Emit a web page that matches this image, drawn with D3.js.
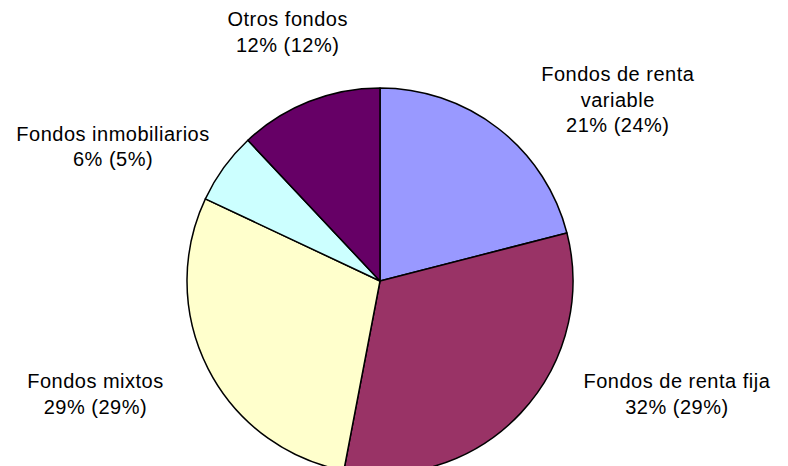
<!DOCTYPE html>
<html>
<head>
<meta charset="utf-8">
<script src="https://cdn.jsdelivr.net/npm/d3@7"></script>
<style>
  body { margin: 0; background: #fff; }
  svg { display: block; }
</style>
</head>
<body>
<div id="chart"></div>
<script>
const categories = ["Fondos de renta\nvariable", "Fondos de renta fija", "Fondos mixtos", "Fondos inmobiliarios", "Otros fondos"];
const shares = [21, 32, 29, 6, 12];
const previousShares = [24, 29, 29, 5, 12];
const colors = ["#9999ff", "#993366", "#ffffcc", "#ccffff", "#660066"];

// nudges from the radial label point, Excel-style placement
const labelNudge = [[84, 17], [114, -59], [-61, -1], [-64, 13], [0, -16]];

const svgWidth = 788;
const svgHeight = 466;
const cx = 380, cy = 281, radius = 193;

const data = categories.map((c, i) => ({
    name: c, value: shares[i], prev: previousShares[i], color: colors[i], i: i
}));

const svg = d3.select("#chart")
    .append("svg")
    .attr("width", svgWidth)
    .attr("height", svgHeight);

const g = svg.append("g")
    .attr("transform", `translate(${cx}, ${cy})`);

const pie = d3.pie().sort(null).value(d => d.value);
const arc = d3.arc().innerRadius(0).outerRadius(radius);
const labelArc = d3.arc().innerRadius(radius * 1.3).outerRadius(radius * 1.3);

const arcs = pie(data);

g.selectAll("path")
    .data(arcs)
    .enter()
    .append("path")
    .attr("d", arc)
    .attr("fill", d => d.data.color)
    .attr("stroke", "#000")
    .attr("stroke-width", 1.5)
    .attr("stroke-linejoin", "round");

const fontSize = 20;
const lineHeight = 25.5;
const capHeight = fontSize * 0.716;

const labels = g.selectAll("text.label")
    .data(arcs)
    .enter()
    .append("text")
    .attr("class", "label")
    .attr("text-anchor", "middle")
    .style("font-family", "'Liberation Sans', Arial, sans-serif")
    .style("font-size", fontSize + "px")
    .style("letter-spacing", "0.5px")
    .attr("fill", "#000");

labels.each(function(d) {
    const lines = d.data.name.split("\n").concat([d.data.value + "% (" + d.data.prev + "%)"]);
    const c = labelArc.centroid(d);
    const x = c[0] + labelNudge[d.data.i][0];
    const mid = c[1] + labelNudge[d.data.i][1];
    const first = mid - (lines.length - 1) * lineHeight / 2 + capHeight / 2;
    d3.select(this).selectAll("tspan")
        .data(lines)
        .enter()
        .append("tspan")
        .attr("x", x)
        .attr("y", (t, j) => first + j * lineHeight)
        .text(t => t);
});
</script>
</body>
</html>
